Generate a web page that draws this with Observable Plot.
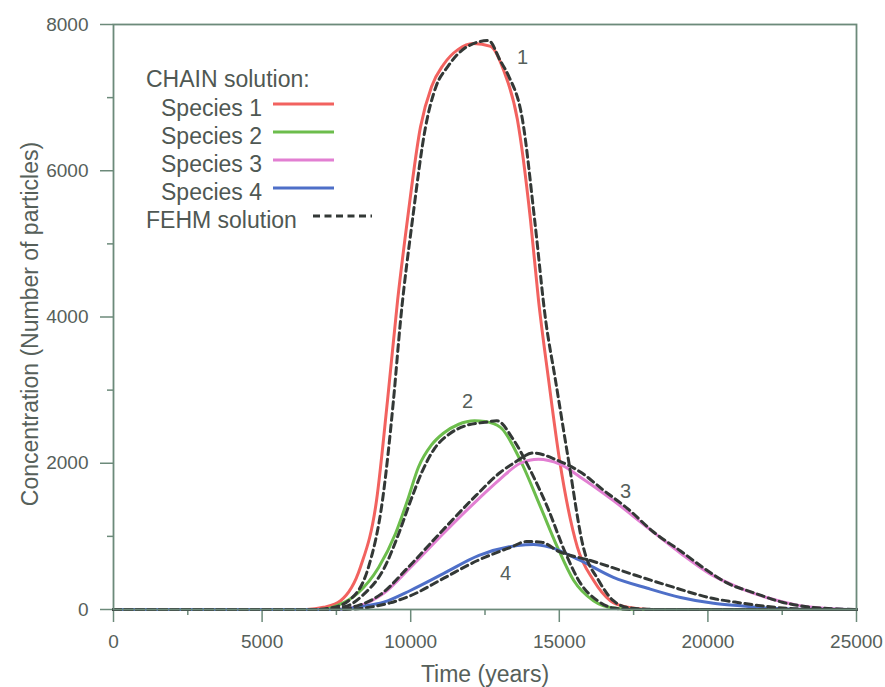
<!DOCTYPE html>
<html>
<head>
<meta charset="utf-8">
<script src="https://cdn.jsdelivr.net/npm/d3@7"></script>
<script src="https://cdn.jsdelivr.net/npm/@observablehq/plot@0.6"></script>
<style>
  html, body { margin: 0; padding: 0; background: #ffffff; }
  #chart { position: relative; width: 885px; height: 687px; overflow: hidden; }
  #chart svg { display: block; }
</style>
</head>
<body>
<div id="chart"></div>
<script>
// ---- Axis ticks ----
const majorX = [0, 5000, 10000, 15000, 20000, 25000];
const minorX = [2500, 7500, 12500, 17500, 22500];
const majorY = [0, 2000, 4000, 6000, 8000];
const minorY = [1000, 3000, 5000, 7000];

// ---- CHAIN solution (solid) ----
const s1T = [0, 6500, 7070, 7640, 8310, 8850, 9220, 9560, 9890, 10330, 10700, 11100, 11600, 12110, 12690, 13120, 13590, 14030, 14300, 14640, 15010, 15610, 16150, 16720, 17300, 18000, 25000];
const s1C = [0, 0, 30, 120, 580, 1490, 2860, 4230, 5330, 6600, 7150, 7450, 7660, 7740, 7700, 7380, 6700, 5330, 4230, 3140, 2040, 850, 400, 120, 30, 0, 0];

const s2T = [0, 7000, 7540, 8210, 8920, 9490, 9890, 10260, 10700, 11100, 11600, 12150, 12500, 13020, 13690, 14370, 14940, 15480, 16150, 16820, 17500, 25000];
const s2C = [0, 0, 55, 220, 575, 1040, 1490, 1945, 2250, 2410, 2530, 2580, 2570, 2490, 2040, 1400, 850, 400, 120, 20, 0, 0];

const s3T = [0, 7500, 8310, 9090, 9990, 11100, 12250, 13000, 13690, 14300, 15000, 15710, 16820, 17970, 19080, 20100, 21100, 22000, 23000, 24000, 25000];
const s3C = [0, 0, 55, 220, 575, 1040, 1500, 1780, 2000, 2055, 1990, 1810, 1490, 1120, 770, 480, 290, 160, 60, 15, 0];

const s4T = [0, 7500, 8310, 9090, 9990, 11100, 12300, 13590, 14130, 14700, 15710, 16820, 17970, 19080, 20190, 21100, 22000, 23000, 25000];
const s4C = [0, 0, 40, 100, 260, 490, 740, 875, 890, 850, 670, 440, 290, 165, 85, 50, 20, 5, 0];

// ---- FEHM solution (dashed) ----
const f1T = [0, 6800, 7300, 7910, 8580, 9050, 9420, 9660, 10060, 10500, 10850, 11240, 11910, 12620, 13020, 13290, 13760, 14170, 14540, 14870, 15310, 15810, 16320, 16820, 17400, 18500, 25000];
const f1C = [0, 0, 20, 120, 580, 1490, 2860, 3960, 5330, 6600, 7150, 7420, 7700, 7780, 7500, 7300, 6700, 5330, 3960, 3140, 2040, 850, 400, 120, 20, 0, 0];

const f2T = [0, 7000, 7800, 8400, 9100, 9600, 10000, 10400, 10800, 11300, 11900, 12500, 12900, 13460, 14030, 14600, 15210, 15710, 16290, 16820, 17500, 25000];
const f2C = [0, 0, 40, 200, 560, 1040, 1490, 1900, 2200, 2400, 2520, 2560, 2580, 2320, 1900, 1400, 770, 360, 120, 20, 0, 0];

const f3T = [0, 7400, 8200, 9000, 9900, 11000, 12200, 13000, 13460, 14130, 14940, 15710, 16490, 17300, 18170, 19080, 19990, 20660, 21530, 22500, 23500, 25000];
const f3C = [0, 0, 50, 210, 570, 1050, 1560, 1870, 2000, 2140, 2040, 1880, 1630, 1380, 1060, 800, 530, 360, 230, 100, 30, 0];

const f4T = [0, 7800, 8600, 9300, 10000, 11100, 12250, 13360, 13900, 14400, 15000, 16050, 17400, 18640, 20190, 21100, 22000, 23000, 25000];
const f4C = [0, 0, 30, 90, 190, 425, 670, 850, 930, 920, 790, 670, 490, 330, 150, 90, 40, 10, 0];

// ---- Curve labels ----
const curveLabels = ["1", "2", "3", "4"];
const curveLabelT = [13760, 11910, 17230, 13190];
const curveLabelC = [7550, 2850, 1615, 495];

// ---- Legend ----
const legendTitle = "CHAIN solution:";
const legendNames = ["Species 1", "Species 2", "Species 3", "Species 4"];
const fehmName = "FEHM solution";
const seriesColors = ["#f2625f", "#6cbd4c", "#e27fd2", "#4e6fc8"];
const dashColor = "#333836";

const textColor = "#56605a";
const axisColor = "#6c8a7a";
const fontFamily = "'Liberation Sans', Arial, Helvetica, sans-serif";

const toRows = (T, C, name) => T.map((t, i) => ({t, c: C[i], name}));
const solid = [
  ...toRows(s1T, s1C, "Species 1"),
  ...toRows(s2T, s2C, "Species 2"),
  ...toRows(s3T, s3C, "Species 3"),
  ...toRows(s4T, s4C, "Species 4")
];
const dashed = [
  ...toRows(f1T, f1C, "F1"),
  ...toRows(f2T, f2C, "F2"),
  ...toRows(f3T, f3C, "F3"),
  ...toRows(f4T, f4C, "F4")
];
const labelRows = curveLabels.map((s, i) => ({s, t: curveLabelT[i], c: curveLabelC[i]}));

const fmt = d3.format("d");

const chart = Plot.plot({
  width: 885,
  height: 687,
  marginLeft: 113,
  marginRight: 29,
  marginTop: 24,
  marginBottom: 78,
  style: {fontFamily, color: textColor, background: "#ffffff", overflow: "visible"},
  x: {domain: [0, 25000]},
  y: {domain: [0, 8000]},
  color: {domain: legendNames, range: seriesColors},
  marks: [
    Plot.axisX(majorX, {tickSize: 13, tickPadding: 12, tickFormat: fmt, fontSize: 19, stroke: axisColor, strokeWidth: 1.5, label: null}),
    Plot.axisX(minorX, {tickSize: 6, tickFormat: () => "", stroke: axisColor, strokeWidth: 1.5, label: null}),
    Plot.axisY(majorY, {tickSize: 13, tickPadding: 12, tickFormat: fmt, fontSize: 19, stroke: axisColor, strokeWidth: 1.5, label: null}),
    Plot.axisY(minorY, {tickSize: 6, tickFormat: () => "", stroke: axisColor, strokeWidth: 1.5, label: null}),
    Plot.text(["Time (years)"], {frameAnchor: "bottom", dy: 72, lineAnchor: "bottom", textAnchor: "middle", fontSize: 23, fill: textColor}),
    Plot.text(["Concentration (Number of particles)"], {frameAnchor: "left", dx: -76, dy: 7, rotate: -90, lineAnchor: "bottom", textAnchor: "middle", fontSize: 23, fill: textColor}),
    Plot.line(solid, {x: "t", y: "c", z: "name", stroke: "name", strokeWidth: 3, curve: "monotone-x"}),
    Plot.line(dashed, {x: "t", y: "c", z: "name", stroke: dashColor, strokeWidth: 3, strokeDasharray: "7,4.5", curve: "monotone-x"}),
    Plot.text(labelRows, {x: "t", y: "c", text: "s", fontSize: 20, fill: textColor, lineAnchor: "middle", textAnchor: "middle"}),
    Plot.frame({stroke: axisColor, strokeWidth: 1.8})
  ]
});

const container = document.getElementById("chart");
container.appendChild(chart);

// Legend overlay (inside plot area, top-left)
const lg = d3.select(container).append("svg")
  .attr("width", 885).attr("height", 687)
  .style("position", "absolute").style("left", "0px").style("top", "0px")
  .style("pointer-events", "none")
  .style("font-family", fontFamily);

const legendFont = 23;
const legendFill = "#4f5853";
lg.append("text").attr("x", 146).attr("y", 87).attr("font-size", legendFont).attr("fill", legendFill).text(legendTitle);
legendNames.forEach((name, i) => {
  const base = 115.5 + 28 * i;
  lg.append("text").attr("x", 161).attr("y", base).attr("font-size", legendFont).attr("fill", legendFill).text(name);
  lg.append("line").attr("x1", 273).attr("x2", 334).attr("y1", base - 11.5).attr("y2", base - 11.5)
    .attr("stroke", seriesColors[i]).attr("stroke-width", 3);
});
{
  const base = 115.5 + 28 * 4;
  lg.append("text").attr("x", 146).attr("y", base).attr("font-size", legendFont).attr("fill", legendFill).text(fehmName);
  lg.append("line").attr("x1", 313).attr("x2", 372).attr("y1", base - 11.5).attr("y2", base - 11.5)
    .attr("stroke", dashColor).attr("stroke-width", 3).attr("stroke-dasharray", "7,4.5");
}
</script>
</body>
</html>
